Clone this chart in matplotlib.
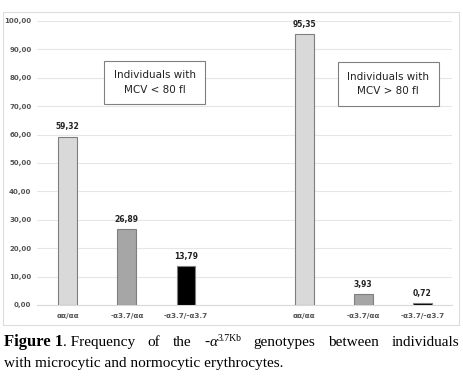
import matplotlib
matplotlib.use("Agg")
import matplotlib.pyplot as plt
from matplotlib.patches import Rectangle

# data
genotypes = ["αα/αα", "-α3.7/αα", "-α3.7/-α3.7"]
mcv_low = [59.32, 26.89, 13.79]
mcv_high = [95.35, 3.93, 0.72]
bar_colors = ["#d9d9d9", "#a6a6a6", "#000000"]
yticks = list(range(0, 101, 10))

fig = plt.figure(figsize=(4.63, 3.80), dpi=100)
W, H = 463, 380

# light frame around the chart
fig.patches.append(Rectangle((3 / W, 1 - 325 / H), 456 / W, 313 / H,
                             transform=fig.transFigure, fill=False,
                             edgecolor="#dcdcdc", linewidth=0.8))

ax = fig.add_axes([37 / W, 1 - 305 / H, 415 / W, 284 / H])
xs = [0, 1, 2, 4, 5, 6]
vals = mcv_low + mcv_high
cols = bar_colors + bar_colors
labels = genotypes + genotypes
ax.bar(xs, vals, width=0.32, color=cols, edgecolor="#7f7f7f",
       linewidth=0.8, zorder=3)
for x, v in zip(xs, vals):
    ax.text(x, v + 1.8, f"{v:.2f}".replace(".", ","), ha="center",
            va="bottom", fontsize=5.5, fontweight="bold", color="#222222")

ax.set_xlim(-0.52, 6.5)
ax.set_ylim(0, 100)
ax.set_yticks(yticks)
ax.set_yticklabels([f"{t:.2f}".replace(".", ",") for t in yticks],
                   fontsize=5, color="#555555", fontweight="bold")
ax.set_xticks(xs)
ax.set_xticklabels(labels, fontsize=5.2, color="#555555", fontweight="bold")
ax.tick_params(axis="y", length=0, pad=4)
ax.tick_params(axis="x", length=0, pad=6)
ax.grid(axis="y", color="#e6e6e6", linewidth=0.8, zorder=0)
for s in ["top", "right", "left"]:
    ax.spines[s].set_visible(False)
ax.spines["bottom"].set_color("#d9d9d9")

box = dict(boxstyle="square,pad=0.9", fc="white", ec="#808080", lw=0.8)
ax.text(1.47, 78.3, "Individuals with\nMCV < 80 fl", ha="center",
        va="center", fontsize=7.5, color="#222222", linespacing=1.6, bbox=box)
ax.text(5.42, 77.8, "Individuals with\nMCV > 80 fl", ha="center",
        va="center", fontsize=7.5, color="#222222", linespacing=1.6, bbox=box)

# caption, first line justified by hand
serif = "Liberation Serif"
fs = 11
words = [[("Figure 1", "bold", 12, 0, "normal"),
          (". Frequency", "normal", fs, 0, "normal")],
         [("of", "normal", fs, 0, "normal")],
         [("the", "normal", fs, 0, "normal")],
         [("-", "normal", fs, 0, "normal"), ("α", "normal", fs, 0, "italic"),
          ("3.7Kb", "normal", 7, 5, "normal")],
         [("genotypes", "normal", fs, 0, "normal")],
         [("between", "normal", fs, 0, "normal")],
         [("individuals", "normal", fs, 0, "normal")]]
fig.canvas.draw()
r = fig.canvas.get_renderer()
y1 = 1 - 346 / H
groups = []
widths = []
for segs in words:
    arts = []
    total = 0
    for s, wt, size, rise, style in segs:
        t = fig.text(0, y1 + rise / H, s, fontsize=size, family=serif,
                     fontweight=wt, fontstyle=style, va="baseline", ha="left")
        wdt = t.get_window_extent(r).width
        arts.append((t, wdt))
        total += wdt
    groups.append(arts)
    widths.append(total)
x0, x1 = 4.0, 459.0
space = (x1 - x0 - sum(widths)) / (len(words) - 1)
x = x0
for arts in groups:
    for t, wdt in arts:
        t.set_x(x / W)
        x += wdt
    x += space
fig.text(4 / W, 1 - 367 / H, "with microcytic and normocytic erythrocytes.",
         fontsize=fs, family=serif, va="baseline", ha="left")

fig.savefig("out.png", dpi=100)
